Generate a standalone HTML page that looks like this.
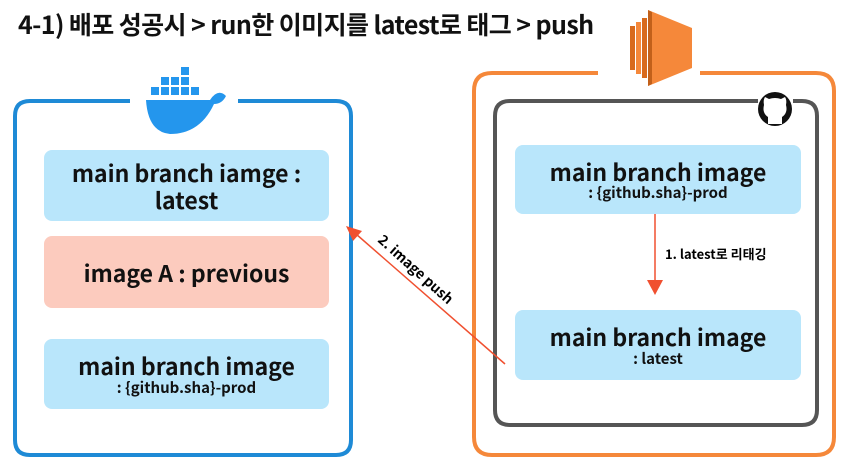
<!DOCTYPE html>
<html><head><meta charset="utf-8"><style>
body{margin:0;width:852px;height:471px;background:#fff;position:relative;overflow:hidden;font-family:"Noto Sans CJK KR","Liberation Sans",sans-serif;}
.t{position:absolute;left:18px;top:6px;font-size:25px;font-weight:bold;color:#111;letter-spacing:-0.6px;white-space:nowrap}
.b{position:absolute;border-radius:8px;text-align:center;font-weight:bold;color:#111;display:flex;flex-direction:column;justify-content:center;align-items:center;line-height:1.15}
.blue{background:#b9e6fb}.pink{background:#fccbbe}
.big{font-size:23px}.sm{font-size:15px}
</style></head><body>
<div class="t">4-1) 배포 성공시 &gt; run한 이미지를 latest로 태그 &gt; push</div>
<svg width="852" height="471" style="position:absolute;left:0;top:0">
<path d="M130 101 H30 Q15 101 15 116 V440 Q15 455 30 455 H336 Q351 455 351 440 V116 Q351 101 336 101 H238" fill="none" stroke="#1e8ad6" stroke-width="4"/>
<path d="M598 73 H492 Q474 73 474 91 V437 Q474 455 492 455 H816 Q834 455 834 437 V91 Q834 73 816 73 H700" fill="none" stroke="#f5883a" stroke-width="4"/>
<path d="M758 101 H510 Q495 101 495 116 V410 Q495 425 510 425 H802 Q817 425 817 410 V116 Q817 101 802 101 H793" fill="none" stroke="#555" stroke-width="4"/>
<polygon points="648,10 692,28 692,68 648,86" fill="#f5883a"/>
<rect x="630" y="26" width="5" height="44" fill="#d86a1d"/><rect x="636" y="22" width="5" height="52" fill="#f5883a"/><rect x="642" y="18" width="5" height="60" fill="#d86a1d"/>
<polygon points="648,10 652,12 652,84 648,86" fill="#c2601a"/>
<g fill="#2496ed">
<path d="M146 100 H210 Q218 88 226 96 Q222 104 214 104 Q200 134 170 134 Q148 132 146 100Z"/>
<rect x="151" y="87" width="8" height="8"/><rect x="161" y="87" width="8" height="8"/><rect x="171" y="87" width="8" height="8"/><rect x="181" y="87" width="8" height="8"/><rect x="191" y="87" width="8" height="8"/>
<rect x="161" y="77" width="8" height="8"/><rect x="171" y="77" width="8" height="8"/><rect x="181" y="77" width="8" height="8"/><rect x="181" y="67" width="8" height="8"/>
</g>
<circle cx="775" cy="109" r="17" fill="#111"/>
<path d="M768 124 V117 Q762 113 764 105 Q763 100 765 97 L769 99 Q775 97 781 99 L785 97 Q787 100 786 105 Q788 113 782 117 V124Z" fill="#fff"/>
<line x1="655" y1="214" x2="655" y2="282" stroke="#f05030" stroke-width="1.5"/>
<polygon points="647,280 663,280 655,295" fill="#f05030"/>
<line x1="505" y1="364" x2="356" y2="234" stroke="#f05030" stroke-width="1.5"/>
<polygon points="346,226 362,231 353,241" fill="#f05030"/>
</svg>
<div style="position:absolute;left:665px;top:244px;font-size:13px;font-weight:bold;white-space:nowrap">1. latest로 리태깅</div>
<div style="position:absolute;left:387px;top:230px;font-size:14px;font-weight:bold;transform:rotate(42deg);transform-origin:0 0;white-space:nowrap">2. image push</div>
<div class="b blue big" style="left:44px;top:150px;width:285px;height:71px">main branch iamge :<br>latest</div>
<div class="b pink big" style="left:44px;top:236px;width:285px;height:72px">image A : previous</div>
<div class="b blue" style="left:44px;top:339px;width:285px;height:70px"><span class="big">main branch image</span><span class="sm">: {github.sha}-prod</span></div>
<div class="b blue" style="left:515px;top:145px;width:286px;height:69px"><span class="big">main branch image</span><span class="sm">: {github.sha}-prod</span></div>
<div class="b blue" style="left:515px;top:310px;width:286px;height:70px"><span class="big">main branch image</span><span class="sm">: latest</span></div>
</body></html>
